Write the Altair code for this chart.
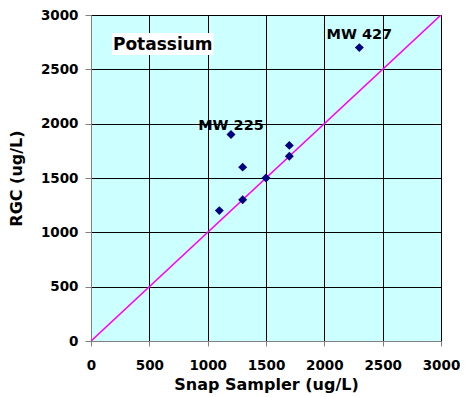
import altair as alt
import pandas as pd

snap = [1100, 1200, 1300, 1300, 1500, 1700, 1700, 2300]
rgc = [1200, 1900, 1600, 1300, 1500, 1800, 1700, 2700]

line_x = [0, 3000]
line_y = [0, 3000]

label_text = ["MW 225", "MW 427"]
label_x = [1200, 2300]
label_y = [1978, 2820]

title_text = ["Potassium"]
title_x = [615]
title_y = [2727]
box_x = [180]
box_x2 = [1051]
box_y = [2632]
box_y2 = [2834]

ticks = [0, 500, 1000, 1500, 2000, 2500, 3000]

pts = pd.DataFrame({"x": snap, "y": rgc})
ln = pd.DataFrame({"x": line_x, "y": line_y})
lab = pd.DataFrame({"t": label_text, "x": label_x, "y": label_y})
ttl = pd.DataFrame({"t": title_text, "x": title_x, "y": title_y})
box = pd.DataFrame({"x": box_x, "x2": box_x2, "y": box_y, "y2": box_y2})

FONT = "DejaVu Sans"
xs = alt.Scale(domain=[0, 3000], nice=False)
ys = alt.Scale(domain=[0, 3000], nice=False)
xax = alt.Axis(values=ticks, title="Snap Sampler (ug/L)", format="d",
               grid=True, gridColor="black", gridWidth=1, gridOpacity=1,
               tickColor="#808080", tickSize=5, domainColor="#808080",
               labelFont=FONT, labelFontWeight="bold", labelFontSize=13.5, labelColor="black",
               labelPadding=12, titleFont=FONT, titleFontWeight="bold", titleFontSize=16,
               titleColor="black", titlePadding=5, labelFlush=False)
yax = alt.Axis(values=ticks, title="RGC (ug/L)", format="d",
               grid=True, gridColor="black", gridWidth=1, gridOpacity=1,
               tickColor="#808080", tickSize=6, domainColor="#808080",
               labelFont=FONT, labelFontWeight="bold", labelFontSize=13.5, labelColor="black",
               labelPadding=7, titleFont=FONT, titleFontWeight="bold", titleFontSize=16,
               titleColor="black", titlePadding=16, labelFlush=False)

base_pts = alt.Chart(pts).mark_point(shape="diamond", filled=True, color="#000080", size=80, opacity=1).encode(
    x=alt.X("x:Q", scale=xs, axis=xax),
    y=alt.Y("y:Q", scale=ys, axis=yax),
)
line = alt.Chart(ln).mark_line(color="#FF00FF", strokeWidth=1.6, clip=True).encode(
    x=alt.X("x:Q", scale=xs), y=alt.Y("y:Q", scale=ys))
boxes = alt.Chart(box).mark_rect(color="white").encode(
    x=alt.X("x:Q", scale=xs), x2="x2:Q", y=alt.Y("y:Q", scale=ys), y2="y2:Q")
ttl_m = alt.Chart(ttl).mark_text(font=FONT, fontWeight="bold", fontSize=17, color="black").encode(
    x=alt.X("x:Q", scale=xs), y=alt.Y("y:Q", scale=ys), text="t:N")
lab_m = alt.Chart(lab).mark_text(font=FONT, fontWeight="bold", fontSize=14.5, color="black").encode(
    x=alt.X("x:Q", scale=xs), y=alt.Y("y:Q", scale=ys), text="t:N")

chart = alt.layer(line, base_pts, boxes, ttl_m, lab_m).properties(
    width=350, height=326,
    autosize=alt.AutoSizeParams(type="none"),
    padding={"left": 83, "top": 7, "right": 19, "bottom": 56},
    background="white",
).configure_view(fill="#CCFFFF", stroke="#808080", strokeWidth=1)

chart.save("out.html", embed_options={"renderer": "svg", "actions": False})
